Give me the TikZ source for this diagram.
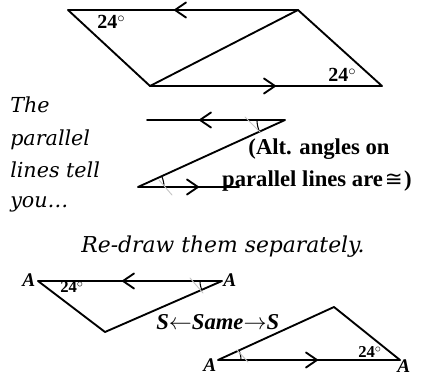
\documentclass[tikz,border=0pt]{standalone}
\usepackage{fontspec}
\setmainfont{Liberation Serif}
\newfontfamily\cambria{DejaVu Serif}
\newfontfamily\symfont{DejaVu Sans}
\begin{document}
\begin{tikzpicture}[x=0.75pt,y=-0.75pt,line cap=round,line join=round,
  edge/.style={line width=1.4pt},
  anglearc/.style={line width=0.8pt},
  tickmark/.style={gray!45,line width=0.7pt},
  deglbl/.style={font=\bfseries\fontsize{15}{15}\selectfont,inner sep=0,anchor=base west},
  deglblsmall/.style={font=\bfseries\fontsize{12.5}{12.5}\selectfont,inner sep=0,anchor=base west},
  vlbl/.style={font=\bfseries\itshape\fontsize{14.5}{14.5}\selectfont,inner sep=0,anchor=base west},
  note/.style={font=\cambria\itshape\fontsize{15.5}{15.5}\selectfont,inner sep=0},
  chevL/.pic={\draw[edge] (11,-7.5) -- (0,0) -- (11,7.5);},
  chevR/.pic={\draw[edge] (-11,-7.5) -- (0,0) -- (-11,7.5);}]
\useasboundingbox (0,0) rectangle (433,381);

% --- top parallelogram ---
\coordinate (p1) at (68,10);
\coordinate (p2) at (298,10);
\coordinate (p3) at (382,86);
\coordinate (p4) at (150,86);
\draw[edge] (p1) -- (p2) -- (p3) -- (p4) -- cycle;
\draw[edge] (p4) -- (p2);
\pic (pa1) at (175,10) {chevL};
\pic (pa2) at (275,86) {chevR};
\node[deglbl] (pd1) at (97,29) {24$^{\circ}$};
\node[deglbl] (pd2) at (328,82) {24$^{\circ}$};

% --- left text ---
\node[note,anchor=base west] (t1) at (10,113) {The};
\node[note,anchor=base west] (t2) at (10,146) {parallel};
\node[note,anchor=base west] (t3) at (10,178) {lines tell};
\node[note,anchor=base west] (t4) at (10,208) {you\ldots};

% --- Z figure ---
\coordinate (z1) at (147,120);
\coordinate (z2) at (285,120);
\coordinate (z3) at (138,187);
\coordinate (z4) at (239,187);
\draw[edge] (z1) -- (z2) -- (z3) -- (z4);
\pic (za1) at (200,120) {chevL};
\pic (za2) at (198,187) {chevR};
\draw[anglearc] plot[domain=155.5:180,samples=20] ({285+28*cos(\x)},{120+28*sin(\x)});
\draw[anglearc] plot[domain=-24.5:0,samples=20] ({138+26*cos(\x)},{187+26*sin(\x)});
\draw[tickmark] (245,117) -- (261,133);
\draw[tickmark] (159,180) -- (172,195);
\node[font=\bfseries\fontsize{17}{17}\selectfont,inner sep=0,anchor=base] (alt1) at (319,155) {(Alt. angles on};
\node[font=\bfseries\fontsize{17}{17}\selectfont,inner sep=0,anchor=base] (alt2) at (317,187) {parallel lines are\kern1.5pt{\symfont\mdseries\fontsize{16}{16}\selectfont ≅}\kern1pt)};

% --- re-draw ---
\node[note,anchor=base,font=\cambria\itshape\fontsize{16.4}{16.4}\selectfont] (rd) at (223,253) {Re-draw them separately.};

% bottom-left triangle
\coordinate (a1) at (38,281);
\coordinate (a2) at (222,281);
\coordinate (a3) at (105,332);
\draw[edge] (a1) -- (a2) -- (a3) -- cycle;
\pic (aa) at (123,281) {chevL};
\draw[anglearc] plot[domain=156.4:180,samples=20] ({222+22*cos(\x)},{281+22*sin(\x)});
\draw[tickmark] (190,278) -- (203,293);
\node[deglblsmall] (ad) at (60,293) {24$^{\circ}$};
\node[vlbl] (aA1) at (22,287) {A};
\node[vlbl] (aA2) at (223,287) {A};

% S<-Same->S
\node[font=\bfseries\itshape\fontsize{17}{17}\selectfont,inner sep=0,anchor=base west] (same) at (156,330) {S$\leftarrow$Same$\rightarrow$S};

% bottom-right triangle
\coordinate (b1) at (218,360);
\coordinate (b2) at (334,307);
\coordinate (b3) at (400,360);
\draw[edge] (b1) -- (b2) -- (b3) -- cycle;
\pic (ba) at (317,360) {chevR};
\draw[anglearc] plot[domain=-24.6:0,samples=20] ({218+23*cos(\x)},{360+23*sin(\x)});
\draw[tickmark] (237,350) -- (248,362);
\node[deglblsmall] (bd) at (358,358) {24$^{\circ}$};
\node[vlbl] (bA1) at (203,372) {A};
\node[vlbl] (bA2) at (397,373) {A};
\end{tikzpicture}
\end{document}
